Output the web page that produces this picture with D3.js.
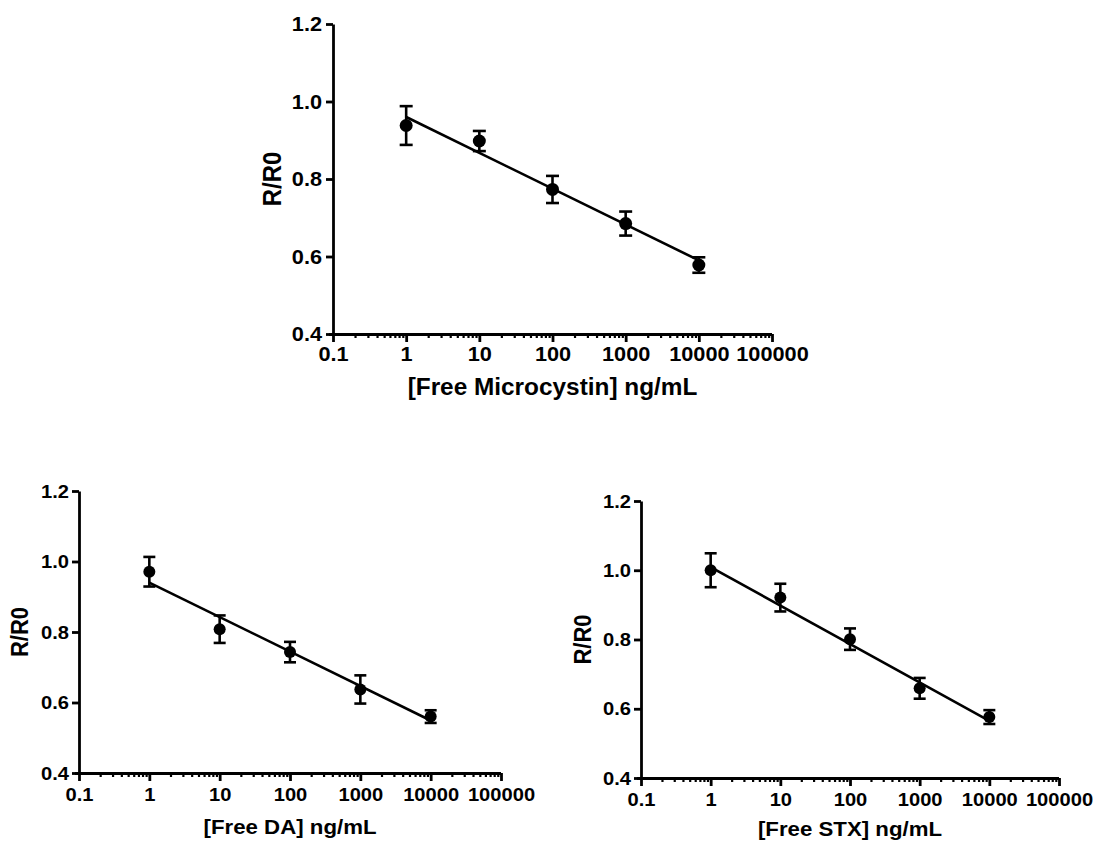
<!DOCTYPE html>
<html>
<head>
<meta charset="utf-8">
<script src="https://cdn.jsdelivr.net/npm/d3@7"></script>
<style>
  body { margin: 0; background: #fff; }
  svg text { font-family: "Liberation Sans", Arial, sans-serif; font-weight: bold; fill: #000; }
</style>
</head>
<body>
<div id="chart"></div>
<script>
// concentrations (ng/mL) and measured R/R0 with error bars
const concentrations = [1, 10, 100, 1000, 10000];

const mcMean = [0.938, 0.898, 0.773, 0.685, 0.578];
const mcErr  = [0.050, 0.026, 0.035, 0.031, 0.020];
const mcFit  = [0.960, 0.590];

const daMean = [0.971, 0.808, 0.743, 0.637, 0.560];
const daErr  = [0.042, 0.039, 0.029, 0.040, 0.018];
const daFit  = [0.940, 0.549];

const stxMean = [1.000, 0.921, 0.801, 0.659, 0.576];
const stxErr  = [0.049, 0.040, 0.031, 0.030, 0.020];
const stxFit  = [1.009, 0.565];

const fitX = [1, 10000];

const xTicks = [0.1, 1, 10, 100, 1000, 10000, 100000];
const xTickLabels = ["0.1", "1", "10", "100", "1000", "10000", "100000"];
const yTicks = [0.4, 0.6, 0.8, 1.0, 1.2];

const stretch = 1.06; // glyphs in the figure are a bit wider than normal

const svg = d3.select("#chart")
    .append("svg")
    .attr("width", 1096)
    .attr("height", 843);

// minor log ticks 0.2..0.9, 2..9, ...
const minorTicks = [];
xTicks.slice(0, -1).forEach(t => {
    for (let k = 2; k <= 9; k++) minorTicks.push(t * k);
});

function drawPanel(p) {
    const x = d3.scaleLog().domain([0.1, 100000]).range([p.left, p.right]);
    const y = d3.scaleLinear().domain([0.4, 1.2]).range([p.bottom, p.top]);
    const g = svg.append("g");

    // x axis - minor ticks
    g.append("g")
        .attr("transform", `translate(0,${p.bottom})`)
        .call(d3.axisBottom(x).tickValues(minorTicks).tickSize(4).tickSizeOuter(0).tickFormat(""))
        .call(a => a.select(".domain").remove())
        .selectAll("line").attr("stroke-width", 2.2);

    // x axis - major
    const xa = g.append("g")
        .attr("transform", `translate(0,${p.bottom})`)
        .call(d3.axisBottom(x).tickValues(xTicks).tickSize(8).tickSizeOuter(0)
            .tickPadding(p.xPad)
            .tickFormat((d, i) => xTickLabels[i]));
    xa.select(".domain").attr("stroke-width", 2.8).attr("d", `M${p.left - 4},0.5H${p.right}`);
    xa.selectAll("line").attr("stroke-width", 2.8);
    xa.selectAll("text")
        .style("font-size", p.tickSize + "px")
        .attr("transform", `scale(${stretch},1)`);

    // y axis
    const ya = g.append("g")
        .attr("transform", `translate(${p.left},0)`)
        .call(d3.axisLeft(y).tickValues(yTicks).tickSize(7).tickSizeOuter(0)
            .tickPadding(p.yPad)
            .tickFormat(d3.format(".1f")));
    ya.select(".domain").attr("stroke-width", 2.8);
    ya.selectAll("line").attr("stroke-width", 2.8);
    ya.selectAll("text")
        .style("font-size", p.tickSize + "px")
        .attr("x", -(7 + p.yPad) / stretch)
        .attr("transform", `scale(${stretch},1)`);

    // axis titles
    g.append("text")
        .attr("transform", `translate(${(p.left + p.right) / 2},${p.bottom + p.titleOff}) scale(${stretch},1)`)
        .attr("dy", "0.35em")
        .style("text-anchor", "middle")
        .style("font-size", p.titleSize + "px")
        .text(p.xTitle);

    g.append("text")
        .attr("transform", `translate(${p.left - p.yLabelOff},${(p.top + p.bottom) / 2}) rotate(-90) scale(1,${stretch})`)
        .attr("dy", "0.35em")
        .style("text-anchor", "middle")
        .style("font-size", p.yLabelSize + "px")
        .text("R/R0");

    // fit line
    const line = d3.line()
        .x(d => x(d[0]))
        .y(d => y(d[1]));
    g.append("path")
        .datum(fitX.map((c, i) => [c, p.fit[i]]))
        .attr("fill", "none")
        .attr("stroke", "#000")
        .attr("stroke-width", 2.6)
        .attr("d", line);

    const pts = concentrations.map((c, i) => ({ c: c, m: p.mean[i], e: p.err[i] }));

    // error bars
    const eb = g.selectAll(".err").data(pts).enter().append("g")
        .attr("stroke", "#000")
        .attr("stroke-width", 2.6);
    eb.append("line")
        .attr("x1", d => x(d.c)).attr("x2", d => x(d.c))
        .attr("y1", d => y(d.m + d.e)).attr("y2", d => y(d.m - d.e));
    eb.append("line")
        .attr("x1", d => x(d.c) - p.cap).attr("x2", d => x(d.c) + p.cap)
        .attr("y1", d => y(d.m + d.e)).attr("y2", d => y(d.m + d.e));
    eb.append("line")
        .attr("x1", d => x(d.c) - p.cap).attr("x2", d => x(d.c) + p.cap)
        .attr("y1", d => y(d.m - d.e)).attr("y2", d => y(d.m - d.e));

    // points
    g.selectAll(".pt").data(pts).enter().append("circle")
        .attr("cx", d => x(d.c))
        .attr("cy", d => y(d.m))
        .attr("r", p.r)
        .attr("fill", "#000");
}

drawPanel({ left: 333, right: 772, top: 24, bottom: 334, xPad: 4, yPad: 4,
    mean: mcMean, err: mcErr, fit: mcFit, xTitle: "[Free Microcystin] ng/mL",
    tickSize: 20.5, titleSize: 23, yLabelSize: 24, titleOff: 53, yLabelOff: 61, cap: 6.5, r: 6.5 });

drawPanel({ left: 79, right: 501, top: 491, bottom: 773, xPad: 7, yPad: 3,
    mean: daMean, err: daErr, fit: daFit, xTitle: "[Free DA] ng/mL",
    tickSize: 19, titleSize: 21, yLabelSize: 22, titleOff: 54, yLabelOff: 59, cap: 6, r: 6 });

drawPanel({ left: 641, right: 1059, top: 501, bottom: 778, xPad: 7, yPad: 3,
    mean: stxMean, err: stxErr, fit: stxFit, xTitle: "[Free STX] ng/mL",
    tickSize: 19, titleSize: 21, yLabelSize: 22, titleOff: 51, yLabelOff: 58, cap: 6, r: 6 });
</script>
</body>
</html>
